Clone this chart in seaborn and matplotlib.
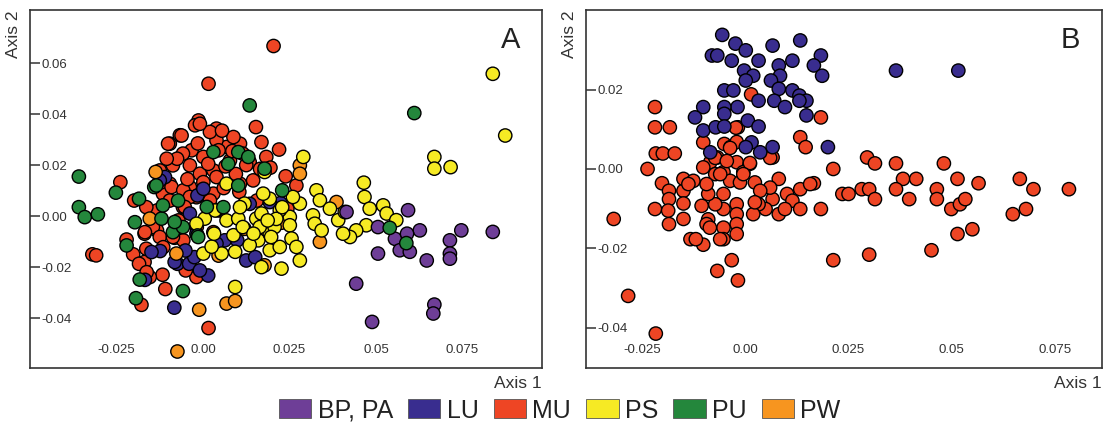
import matplotlib
matplotlib.use("Agg")
import matplotlib.pyplot as plt
from matplotlib.patches import Patch
import pandas as pd
import seaborn as sns

groups = ["BP, PA", "LU", "MU", "PS", "PU", "PW"]
colors = ["#6e3e97", "#392d8f", "#ee4524", "#f6ea24", "#24873c", "#f7951f"]

# ---- panel A (all groups) ----
a_mu_x = [0.0204, 0.0016, 0.0153, 0.022, -0.0239, -0.0199, -0.032, -0.0309, -0.0221, -0.0202,
          -0.0169, -0.0117, -0.0109, -0.0178, 0.0016, -0.0019, -0.005, 0.0239, 0.027, 0.0244,
          0.0156, 0.003, -0.0082, -0.0133, -0.0169, -0.0164, -0.0185, -0.0154, -0.0071, -0.0133,
          -0.0102, -0.0013, -0.0023, 0.0039, -0.0096, -0.0067, -0.0033, 0.0001, -0.0087, -0.0038,
          -0.0009, 0.003, 0.0078, 0.0068, 0.0039, 0.0107, 0.0169, 0.0183, 0.0135, -0.0096,
          -0.0038, 0.0039, 0.0107, 0.0145, -0.0058, -0.0116, -0.0019, 0.003, 0.0049, -0.0125,
          0.0088, -0.0058, 0.002, -0.0009, -0.012, -0.0091, -0.0096, -0.0057, -0.0038, -0.0164,
          -0.0145, -0.0125, -0.0057, -0.0018, 0.002, 0.0001, 0.0045, 0.0125, 0.006, 0.0095,
          0.0115, -0.0075, -0.0015, 0.0055, 0.0105, -0.0168, -0.0087, -0.0163, -0.0115, -0.0053,
          0.0039, -0.0062, -0.0101, 0.0085, 0.0015, -0.0045, 0.0165, 0.0195, -0.0105, 0.0065]
a_mu_y = [0.0667, 0.0519, 0.0349, 0.0261, 0.0133, 0.0061, -0.015, -0.0154, -0.0092, -0.015,
          -0.018, -0.023, -0.0286, -0.0348, -0.0439, -0.0239, -0.0213, 0.0156, 0.012, 0.0029,
          0.0061, -0.0063, -0.0085, -0.0056, -0.0069, -0.0128, -0.0187, -0.0239, -0.0017, 0.0022,
          0.0061, 0.0375, 0.0356, 0.0343, 0.0284, 0.0317, 0.0258, 0.0232, 0.0199, 0.0199,
          0.0166, 0.0179, 0.0218, 0.0271, 0.0297, 0.0284, 0.029, 0.0232, 0.0212, 0.0127,
          0.0114, 0.0153, 0.0127, 0.014, 0.0035, 0.0088, 0.0074, 0.0088, 0.0022, 0.0179,
          0.031, 0.0245, 0.033, 0.0362, 0.0133, 0.0114, 0.0061, 0.0101, 0.0075, 0.0035,
          -0.0043, -0.0082, -0.0095, -0.0043, 0.0061, 0.0133, 0.0258, 0.02, 0.011, 0.0165,
          0.0245, 0.0225, 0.0285, 0.0335, 0.0095, -0.0063, -0.0082, -0.022, -0.0122, 0.0036,
          0.0023, 0.0316, 0.0284, 0.0255, 0.0205, 0.0145, 0.0185, 0.019, 0.0225, 0.0195]

a_lu_x = [-0.0083, -0.0124, -0.0168, 0.0015, -0.0074, -0.004, -0.0025, 0.0125, 0.0151, 0.0224,
          0.0193, 0.0135, 0.0063, 0.0032, -0.0051, -0.011, -0.0016, 0.0099, -0.0009, -0.0019,
          0.0039, -0.0038, -0.0125, 0.0001, -0.0149, -0.0082]
a_lu_y = [-0.0359, -0.0137, -0.025, -0.0233, -0.0187, -0.0187, -0.0161, -0.0174, -0.0161, 0.0051,
          0.0055, 0.0048, -0.0095, -0.0122, -0.0135, 0.0153, 0.0081, -0.0095, -0.0213, -0.0069,
          -0.0108, 0.001, 0.014, 0.0107, -0.0141, -0.018]

a_pw_x = [-0.0074, -0.0137, -0.0154, -0.0077, -0.0011, 0.0068, 0.0093, 0.028, 0.028, 0.0386,
          0.0338, 0.0227, 0.0178, 0.0177, 0.012, 0.0045]
a_pw_y = [-0.0531, 0.0173, -0.001, -0.0147, -0.0367, -0.0343, -0.0333, 0.0199, 0.0166, 0.0055,
          -0.0101, -0.0026, -0.0193, -0.0069, -0.005, -0.0155]

a_ps_x = [0.0838, 0.0874, 0.0669, 0.0669, 0.0716, 0.029, 0.0465, 0.0467, 0.0482, 0.0521,
          0.0531, 0.0472, 0.0443, 0.0425, 0.0405, 0.0391, 0.041, 0.0328, 0.0338, 0.0318,
          0.0323, 0.0343, 0.0367, 0.028, 0.026, 0.0251, 0.0222, 0.0193, 0.0178, 0.0174,
          0.0251, 0.0256, 0.027, 0.028, 0.0227, 0.0169, 0.0193, 0.0222, 0.016, 0.0193,
          0.0154, 0.0559, 0.0005, -0.0019, 0.0068, 0.0102, 0.012, 0.0169, 0.0088, 0.0135,
          0.0093, 0.0054, 0.0001, 0.0025, 0.0093, 0.0164, 0.0207, 0.0068, 0.0107, 0.0212,
          0.0035, 0.0187, 0.0197, 0.0229, 0.0115, 0.0146, 0.0032]
a_ps_y = [0.0558, 0.0316, 0.0232, 0.0186, 0.0192, 0.0232, 0.0131, 0.0075, 0.0029, 0.0042,
          0.001, -0.0036, -0.0056, -0.0082, -0.0069, -0.0016, 0.0016, 0.0101, 0.0062, 0.0003,
          -0.003, -0.0056, 0.0029, 0.0049, 0.0075, -0.0003, 0.0023, 0.0068, 0.0173, 0.0088,
          -0.0036, -0.0088, -0.0121, -0.0174, -0.0206, -0.02, -0.0134, -0.0121, -0.0095, -0.0069,
          -0.001, -0.0016, -0.001, -0.003, -0.0017, -0.001, 0.0049, 0.001, -0.0075, -0.0114,
          -0.014, -0.0147, -0.0147, -0.012, -0.0278, -0.0043, -0.0043, 0.0127, 0.0035, -0.0011,
          0.0022, -0.0017, -0.0082, 0.0035, -0.0043, -0.0069, -0.0069]

a_bp_x = [0.0593, 0.0506, 0.0555, 0.0569, 0.0598, 0.0627, 0.0647, 0.0714, 0.0747, 0.0714,
          0.0714, 0.0838, 0.0506, 0.0443, 0.0489, 0.0669, 0.0666, 0.0415, 0.059]
a_bp_y = [0.0023, -0.0043, -0.0089, -0.0134, -0.014, -0.0056, -0.0174, -0.0095, -0.0056, -0.0147,
          -0.0167, -0.0062, -0.0147, -0.0265, -0.0415, -0.0347, -0.0382, 0.0016, -0.0069]

a_pu_x = [-0.0359, -0.0359, -0.0342, -0.0304, -0.0252, 0.0135, 0.0611, 0.054, 0.0588, -0.0183,
          -0.0194, -0.0058, -0.0197, -0.0221, -0.012, -0.0141, -0.0087, -0.0016, 0.003, 0.0102,
          0.0131, 0.0073, 0.0229, 0.0178, 0.0102, 0.0011, -0.0072, -0.0185, -0.0058, -0.0116,
          0.0059, -0.0135, -0.0082, -0.0014]
a_pu_y = [0.0155, 0.0035, -0.0004, 0.0007, 0.0092, 0.0434, 0.0404, -0.0046, -0.0106, -0.0249,
          -0.0322, -0.0294, -0.0024, -0.0115, -0.001, 0.0114, -0.0063, -0.0076, 0.0251, 0.0251,
          0.0232, 0.0205, 0.0101, 0.0186, 0.012, 0.0036, 0.0061, 0.0068, -0.0043, 0.0042,
          0.0035, 0.012, -0.0023, -0.0082]

# ---- panel B (LU and MU) ----
b_lu_x = [-0.0056, -0.0024, 0.0001, -0.0081, -0.0068, -0.0033, 0.0032, 0.0066, 0.0133, 0.0114,
          0.0183, 0.0166, 0.0186, 0.0081, 0.0084, 0.0062, -0.0003, 0.0019, 0.0001, -0.0051,
          -0.0029, 0.0081, 0.0114, 0.0131, 0.0148, 0.007, 0.0096, 0.0032, -0.0019, -0.0051,
          -0.0102, -0.0122, -0.0051, -0.0102, -0.0072, -0.0051, 0.0006, 0.0032, 0.0015, 0.0066,
          0.0036, 0.0001, -0.0085, 0.0148, 0.02, 0.0365, 0.0516, 0.0131]
b_lu_y = [0.0338, 0.0316, 0.0299, 0.0286, 0.0286, 0.0273, 0.0273, 0.0311, 0.0324, 0.0273,
          0.0286, 0.0261, 0.0235, 0.0261, 0.0235, 0.0223, 0.0248, 0.0235, 0.0223, 0.0198,
          0.0198, 0.0202, 0.0198, 0.0185, 0.0172, 0.0172, 0.0156, 0.0172, 0.0156, 0.0156,
          0.0156, 0.013, 0.0139, 0.0097, 0.0105, 0.0107, 0.0122, 0.0107, 0.0067, 0.0055,
          0.0042, 0.0055, 0.0042, 0.0135, 0.0055, 0.0248, 0.0248, 0.0172]

b_mu_x = [-0.0319, -0.0284, -0.0217, -0.0219, -0.0219, -0.0183, -0.0217, -0.02, -0.0171, -0.0237,
          -0.0202, -0.0185, -0.0185, -0.0219, -0.0185, -0.015, -0.015, -0.015, -0.015, -0.0133,
          -0.0102, -0.012, -0.0068, -0.0033, -0.0018, -0.0102, -0.0085, -0.0068, -0.0051, -0.0036,
          -0.0018, 0.0014, 0.0183, 0.0133, 0.0146, 0.0066, 0.0213, 0.0166, 0.0133, 0.0081,
          0.0066, 0.0101, 0.0114, 0.0133, 0.0081, 0.0049, 0.0032, 0.0019, 0.0183, 0.0213,
          0.0235, 0.025, 0.0282, 0.03, 0.0295, 0.0314, 0.0314, 0.03, 0.0365, 0.0382,
          0.0365, 0.0397, 0.0414, 0.0451, 0.0464, 0.0464, 0.0481, 0.0499, 0.0514, 0.0514,
          0.052, 0.0533, 0.055, 0.0565, 0.0648, 0.0665, 0.068, 0.0698, 0.0784,
          -0.0021, -0.0102, -0.0073, -0.0053, -0.0021, 0.0011, -0.0005, -0.0037, -0.0013, 0.0023,
          0.006, 0.0157, 0.0036, 0.0096, 0.0023, -0.0021, -0.0021, -0.0021, -0.0021, -0.0053,
          -0.0053, -0.0053, -0.0053, -0.0073, -0.009, -0.009, -0.0094, -0.0086, -0.0094, -0.0106,
          -0.0126, -0.0138, -0.0187, -0.0061, -0.0023, -0.0037, -0.0073, -0.0045, 0.0011, 0.006,
          -0.0005, -0.0061]
b_mu_y = [-0.0126, -0.032, -0.0415, 0.0156, 0.0105, 0.0105, 0.0039, 0.0039, 0.0039, 0.0,
          -0.0036, -0.0055, -0.0076, -0.0101, -0.0139, -0.0055, -0.0025, -0.0087, -0.0126, -0.0177,
          -0.0191, -0.0177, -0.0257, -0.023, -0.0281, 0.0067, 0.0017, 0.0029, 0.0063, 0.0055,
          0.0105, 0.0188, 0.013, 0.008, 0.0055, 0.0029, 0.0, -0.0036, -0.0051, -0.0025,
          -0.0076, -0.0063, -0.008, -0.0101, -0.0114, -0.0101, -0.0089, -0.0114, -0.0101, -0.023,
          -0.0063, -0.0063, -0.0051, -0.0051, 0.0029, 0.0014, -0.0076, -0.0216, 0.0014, -0.0025,
          -0.0051, -0.0076, -0.0025, -0.0205, -0.0051, -0.0076, 0.0014, -0.0101, -0.0025, -0.0164,
          -0.0089, -0.0076, -0.0152, -0.0036, -0.0114, -0.0025, -0.0101, -0.0051, -0.0051,
          0.0068, 0.0004, -0.0013, -0.0008, 0.0017, 0.0013, -0.0008, -0.003, -0.0034, -0.0034,
          -0.0047, -0.0038, -0.0055, -0.0101, -0.0084, -0.0089, -0.0114, -0.0139, -0.0164, -0.0063,
          -0.0101, -0.0148, -0.0177, -0.0089, -0.0063, -0.0127, -0.0139, -0.0148, -0.0038, -0.0093,
          -0.003, -0.0038, -0.0105, -0.0177, 0.0104, 0.0053, 0.0028, 0.002, 0.0015, 0.0028,
          -0.0013, -0.0013]


def frame(parts):
    rows = []
    for name, xs, ys in parts:
        rows.append(pd.DataFrame({"axis1": xs, "axis2": ys, "group": name}))
    return pd.concat(rows, ignore_index=True)


# draw order: later groups sit on top
df_a = frame([("MU", a_mu_x, a_mu_y), ("LU", a_lu_x, a_lu_y), ("PW", a_pw_x, a_pw_y),
              ("PS", a_ps_x, a_ps_y), ("BP, PA", a_bp_x, a_bp_y), ("PU", a_pu_x, a_pu_y)])
df_b = frame([("MU", b_mu_x, b_mu_y), ("LU", b_lu_x, b_lu_y)])

palette = dict(zip(groups, colors))

sns.set_style("white")
plt.rcParams["font.family"] = ["Liberation Sans", "DejaVu Sans"]

fig = plt.figure(figsize=(11.15, 4.29), dpi=100)
ax_a = fig.add_axes([0.027, 0.142, 0.459, 0.834])
ax_b = fig.add_axes([0.5256, 0.142, 0.4627, 0.834])


def style_axes(ax, xlim, ylim, yticks, letter):
    ax.set_xlim(*xlim)
    ax.set_ylim(*ylim)
    xt = [-0.025, 0.0, 0.025, 0.05, 0.075]
    ax.set_xticks(xt, labels=["-0.025", "0.00", "0.025", "0.05", "0.075"])
    ax.set_yticks(yticks, labels=[f"{v:.2f}" for v in yticks])
    ax.tick_params(axis="x", bottom=True, length=0, pad=-17, labelsize=9.5,
                   labelcolor="#333333")
    ax.tick_params(axis="y", left=True, direction="in", length=7, width=1.1, pad=-8,
                   labelsize=9.5, labelcolor="#333333", color="#333333")
    for lbl in ax.get_yticklabels():
        lbl.set_horizontalalignment("left")
    for sp in ax.spines.values():
        sp.set_visible(True)
        sp.set_color("#333333")
        sp.set_linewidth(1.2)
    ax.set_xlabel("Axis 1", loc="right", fontsize=12.5, color="#333333")
    ax.xaxis.set_label_coords(1.0, -0.022)
    ax.set_ylabel("Axis 2", loc="top", fontsize=12.5, color="#333333")
    ax.yaxis.set_label_coords(-0.018, 1.0)
    ax.text(0.958, 0.955, letter, transform=ax.transAxes, ha="right", va="top",
            fontsize=21, color="#222222")


for ax, df in [(ax_a, df_a), (ax_b, df_b)]:
    sns.scatterplot(data=df, x="axis1", y="axis2", hue="group", palette=palette,
                    s=92, edgecolor="black", linewidth=1.0, alpha=1, legend=False, ax=ax)

style_axes(ax_a, (-0.050, 0.098), (-0.0596, 0.0807),
           [-0.04, -0.02, 0.0, 0.02, 0.04, 0.06], "A")
style_axes(ax_b, (-0.0386, 0.0864), (-0.0502, 0.0400),
           [-0.04, -0.02, 0.0, 0.02], "B")

handles = [Patch(facecolor=c, edgecolor="#555555", linewidth=0.6, label=g)
           for g, c in zip(groups, colors)]
fig.legend(handles=handles, loc="center", bbox_to_anchor=(0.502, 0.043), ncol=6,
           frameon=False, fontsize=18, handlelength=1.3, handleheight=0.8,
           handletextpad=0.25, columnspacing=0.6, labelcolor="#222222")

fig.savefig("out.png", dpi=100)
